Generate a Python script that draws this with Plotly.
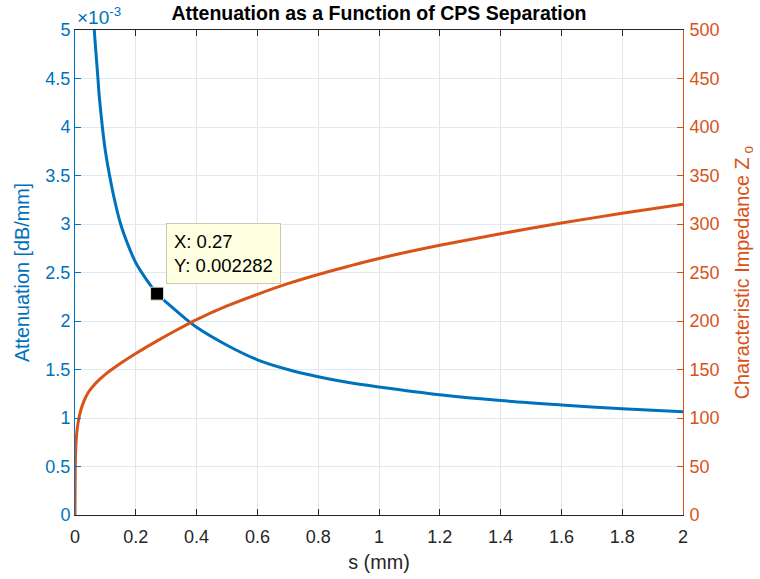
import plotly.graph_objects as go

# Attenuation of the CPS line vs. strip separation (dB/mm)
sep_att = [0.055, 0.0635, 0.07, 0.075, 0.08, 0.09, 0.10, 0.115, 0.13, 0.15, 0.175,
           0.20, 0.23, 0.27, 0.32, 0.365, 0.40, 0.50, 0.60, 0.70, 0.80, 0.90,
           1.00, 1.20, 1.40, 1.60, 1.80, 2.00]
attenuation = [5.6e-3, 5.0e-3, 4.72e-3, 4.52e-3, 4.31e-3, 4.0e-3, 3.75e-3, 3.48e-3, 3.25e-3,
               3.0e-3, 2.78e-3, 2.60e-3, 2.45e-3, 2.282e-3, 2.14e-3, 2.02e-3, 1.935e-3,
               1.75e-3, 1.60e-3, 1.50e-3, 1.425e-3, 1.365e-3, 1.32e-3, 1.24e-3,
               1.18e-3, 1.135e-3, 1.095e-3, 1.065e-3]

# Characteristic impedance vs. separation (ohms)
sep_z = [0, 0.0005, 0.001, 0.002, 0.004, 0.007, 0.013, 0.02, 0.03, 0.045, 0.06, 0.08,
         0.10, 0.13, 0.16, 0.20, 0.27, 0.33, 0.40, 0.50, 0.60, 0.70, 0.80, 0.90,
         1.00, 1.20, 1.40, 1.60, 1.80, 2.00]
impedance = [0, 35, 50, 65, 78, 88, 100, 109, 118, 127, 133, 139.5, 145, 152, 158.5, 166.5,
             179.5, 190, 201.5, 215.5, 227.5, 238.5, 248, 256.5, 264.5, 278, 290, 301,
             311, 320.5]

# Data tip on the attenuation curve
tip_s = 0.27
tip_att = 0.002282

# y-axis ticks (left axis shown in units of 1e-3)
att_ticks = [0, 0.5e-3, 1e-3, 1.5e-3, 2e-3, 2.5e-3, 3e-3, 3.5e-3, 4e-3, 4.5e-3, 5e-3]
att_ticktext = ["0", "0.5", "1", "1.5", "2", "2.5", "3", "3.5", "4", "4.5", "5"]
x_ticks = [0, 0.2, 0.4, 0.6, 0.8, 1, 1.2, 1.4, 1.6, 1.8, 2]
x_ticktext = ["0", "0.2", "0.4", "0.6", "0.8", "1", "1.2", "1.4", "1.6", "1.8", "2"]

BLUE = "#0072BD"
ORANGE = "#D95319"
DARK = "#262626"
FONT = "Liberation Sans, Arial, Helvetica, sans-serif"

fig = go.Figure()
fig.add_trace(go.Scatter(x=sep_att, y=attenuation, mode="lines",
                         line=dict(color=BLUE, width=3, shape="spline", smoothing=0.8),
                         yaxis="y", showlegend=False))
fig.add_trace(go.Scatter(x=sep_z, y=impedance, mode="lines",
                         line=dict(color=ORANGE, width=3, shape="spline", smoothing=0.8),
                         yaxis="y2", showlegend=False))
fig.add_trace(go.Scatter(x=[tip_s], y=[tip_att], mode="markers",
                         marker=dict(symbol="square", size=13, color="black",
                                     line=dict(color="#E6E6C8", width=1)),
                         yaxis="y", showlegend=False))

fig.add_annotation(x=tip_s, y=tip_att, xref="x", yref="y",
                   text=f"X: {tip_s}<br>Y: {tip_att}", showarrow=False,
                   xanchor="left", yanchor="bottom", xshift=9, yshift=10, align="left",
                   font=dict(family=FONT, size=18.5, color="black"),
                   bgcolor="#FFFFE1", bordercolor="#C8C8B4", borderwidth=1, borderpad=7)

fig.add_annotation(x=0, y=1, xref="paper", yref="paper", xanchor="left", yanchor="bottom",
                   text="×10<sup>-3</sup>", showarrow=False, yshift=0,
                   font=dict(family=FONT, size=19, color=BLUE))

fig.update_layout(
    width=760, height=579,
    margin=dict(l=75, r=77, t=30, b=64),
    paper_bgcolor="white", plot_bgcolor="white",
    font=dict(family=FONT, size=18, color=DARK),
    title=dict(text="<b>Attenuation as a Function of CPS Separation</b>",
               x=0.5, xref="paper", xanchor="center", y=0.977, yanchor="middle",
               font=dict(family=FONT, size=19.5, color="black"), automargin=False),
    xaxis=dict(range=[0, 2], tickvals=x_ticks, ticktext=x_ticktext,
               showgrid=True, gridcolor="#E3E5E8", gridwidth=1,
               showline=True, linecolor=DARK, linewidth=1, mirror="ticks",
               ticks="inside", ticklen=6, tickcolor=DARK, zeroline=False,
               ticklabelstandoff=5, automargin=False,
               tickfont=dict(family=FONT, size=18, color=DARK),
               title=dict(text="s (mm)", font=dict(family=FONT, size=19.8, color=DARK),
                          standoff=9)),
    yaxis=dict(range=[0, 5e-3], tickvals=att_ticks, ticktext=att_ticktext,
               showgrid=True, gridcolor="#DCEAF5", gridwidth=1,
               showline=True, linecolor=BLUE, linewidth=1,
               ticks="inside", ticklen=6, tickcolor=BLUE, zeroline=False,
               automargin=False,
               tickfont=dict(family=FONT, size=18, color=BLUE),
               title=dict(text="Attenuation [dB/mm]",
                          font=dict(family=FONT, size=19.8, color=BLUE), standoff=10)),
    yaxis2=dict(range=[0, 500], dtick=50, overlaying="y", side="right",
                showgrid=False, showline=True, linecolor=ORANGE, linewidth=1,
                ticks="inside", ticklen=6, tickcolor=ORANGE, zeroline=False,
                ticklabelstandoff=2, automargin=False,
                tickfont=dict(family=FONT, size=18, color=ORANGE),
                title=dict(text="Characteristic Impedance Z<sub> o</sub>",
                           font=dict(family=FONT, size=19.8, color=ORANGE), standoff=16)),
)

fig.write_html("out.html")
